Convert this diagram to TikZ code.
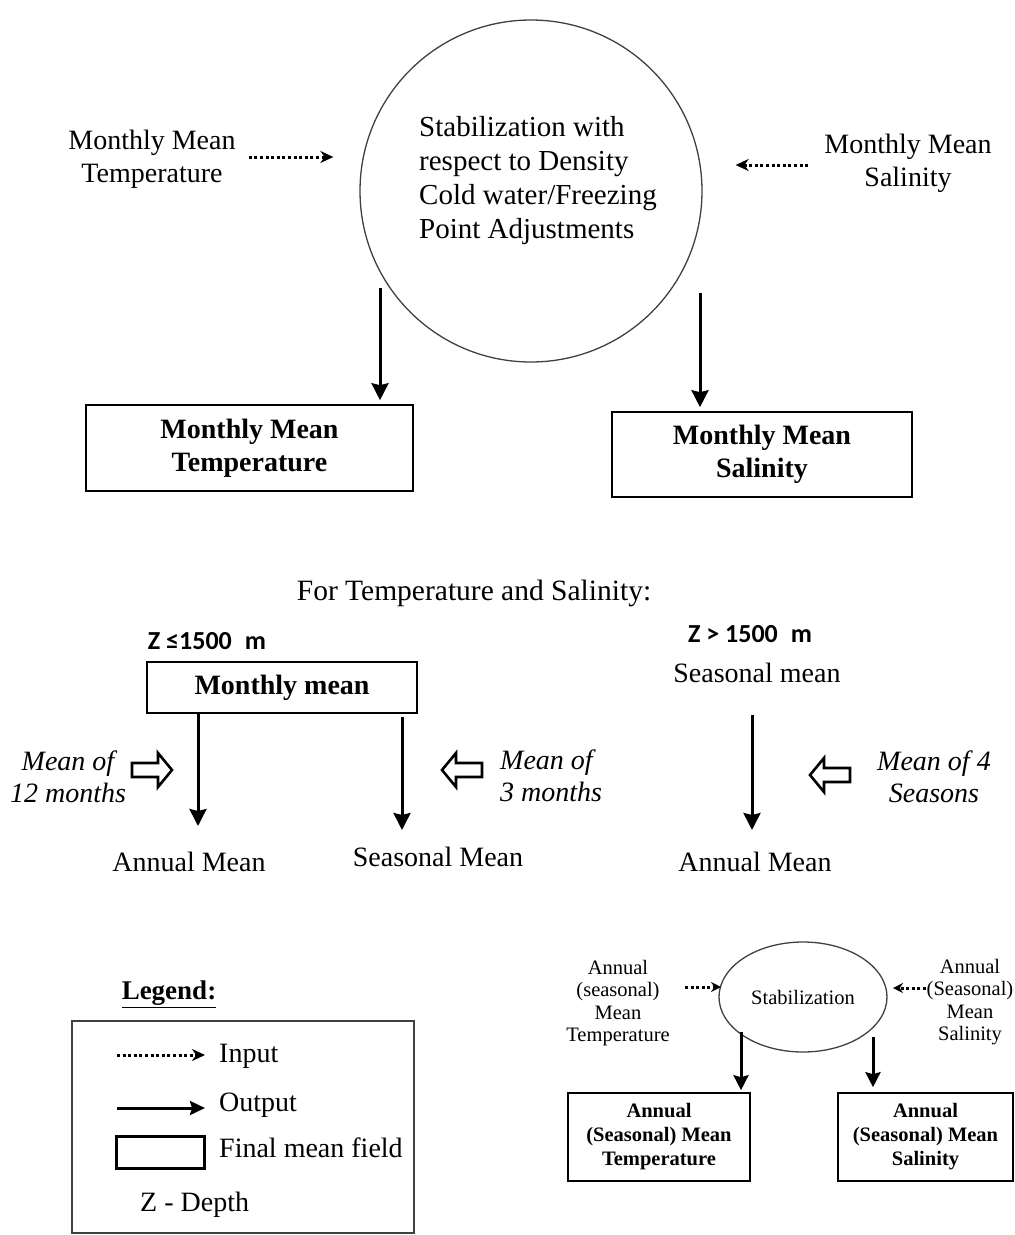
\documentclass[tikz,border=0pt]{standalone}
\usepackage{fontspec}
\setmainfont{Liberation Serif}
\newfontfamily\zfont{Carlito}
\usetikzlibrary{arrows.meta,shapes.geometric}
\begin{document}
\begin{tikzpicture}[x=1pt,y=-1pt,
  txt/.style={font=\fontsize{28}{33}\selectfont, align=center, inner sep=0pt},
  btxt/.style={font=\bfseries\fontsize{28}{33}\selectfont, align=center, inner sep=0pt},
  itxt/.style={font=\itshape\fontsize{28}{32}\selectfont, align=center, inner sep=0pt},
  ztxt/.style={font=\zfont\bfseries\fontsize{26}{29}\selectfont, inner sep=0pt},
  stxt/.style={font=\fontsize{20.5}{22.5}\selectfont, align=center, inner sep=0pt},
  sbtxt/.style={font=\bfseries\fontsize{20.5}{24}\selectfont, align=center, inner sep=0pt},
  fbox/.style={draw, line width=1.6pt, inner sep=0pt},
  inarrow/.style={line width=3pt, dash pattern=on 3pt off 2.6pt, -{Stealth[length=13pt,width=12pt]}},
  outarrow/.style={line width=3pt, -{Stealth[length=17pt,width=17pt,inset=2pt]}},
  hollowarr/.pic={\draw[line width=2.6pt, line join=miter] (-20,-7) -- (6,-7) -- (6,-17) -- (20,0) -- (6,17) -- (6,7) -- (-20,7) -- cycle;}
]
\useasboundingbox (0,0) rectangle (1015,1235);

% ---------- top part ----------
\node[circle, draw=black!75, line width=1.3pt, minimum size=342pt, inner sep=0pt] (stab) at (531,191) {};
\node[txt, align=left, anchor=west, font=\fontsize{29}{34}\selectfont] (stabtxt) at (419,181)
  {Stabilization with\\respect to Density\\Cold water/Freezing\\Point Adjustments};

\node[txt] (mmt) at (152,159) {Monthly Mean\\Temperature};
\node[txt] (mms) at (908,163) {Monthly Mean\\Salinity};

\draw[inarrow, shorten <=13pt, shorten >=26pt] (mmt.east |- 0,157) -- (stab.west |- 0,157);
\draw[inarrow, shorten <=16pt, shorten >=33pt] (mms.west |- 0,165) -- (stab.east |- 0,165);

\node[fbox, minimum width=327pt, minimum height=86pt] (mbt) at (249.5,448) {};
\node[btxt] (mbttxt) at (mbt.center) {Monthly Mean\\Temperature};
\node[fbox, minimum width=300pt, minimum height=85pt] (mbs) at (762,454.5) {};
\node[btxt] (mbstxt) at (mbs.center) {Monthly Mean\\Salinity};

\coordinate (d1) at (380,288);
\coordinate (d2) at (700,293);
\draw[outarrow, shorten >=4pt] (d1) -- (d1 |- mbt.north);
\draw[outarrow, shorten >=4pt] (d2) -- (d2 |- mbs.north);

% ---------- middle part ----------
\node[txt, font=\fontsize{29.5}{34}\selectfont] (fts) at (474,593) {For Temperature and Salinity:};

\node[ztxt] (z1) at (207,641) {Z ≤1500\enspace m};
\node[fbox, minimum width=270pt, minimum height=51pt] (mm) at (282,687.5) {};
\node[btxt] (mmtxt) at (mm.center) {Monthly mean};

\node[txt] (an1) at (189,862) {Annual Mean};
\node[txt] (sn1) at (438,857) {Seasonal Mean};
\coordinate (t1) at (198,826);
\coordinate (t2) at (402,830);
\draw[outarrow] (mm.south -| t1) -- (t1);
\draw[outarrow, shorten <=3pt] (mm.south -| t2) -- (t2);

\pic at (152,770) {hollowarr};
\pic[xscale=-1] at (462,770) {hollowarr};
\node[itxt] (m12) at (68,777) {Mean of\\12 months};
\node[itxt, align=left, anchor=west] (m3) at (500,776) {Mean of\\3 months};

\node[ztxt] (z2) at (750,634) {Z > 1500\enspace m};
\node[txt] (sm) at (757,673) {Seasonal mean};
\node[txt] (an2) at (755,862) {Annual Mean};
\coordinate (s1) at (752,715);
\coordinate (t3) at (752,830);
\draw[outarrow] (s1) -- (t3);
\pic[xscale=-1] at (830,775) {hollowarr};
\node[itxt] (m4) at (934,777) {Mean of 4\\Seasons};

% ---------- bottom right ----------
\node[ellipse, draw=black!75, line width=1.3pt, minimum width=168pt, minimum height=110pt, inner sep=0pt] (el) at (803,997) {};
\node[stxt] (eltxt) at (el.center) {Stabilization};
\node[stxt] (ait) at (618,1003) {Annual\\(seasonal)\\Mean\\Temperature};
\node[stxt] (ais) at (970,1002) {Annual\\(Seasonal)\\Mean\\Salinity};
\draw[inarrow, -{Stealth[length=10pt,width=10pt]}] (685,987) coordinate (ia1) -- (721,987) coordinate (ia2);
\draw[inarrow, -{Stealth[length=10pt,width=10pt]}] (926,988) coordinate (ib1) -- (893,988) coordinate (ib2);

\node[fbox, minimum width=182pt, minimum height=88pt] (abt) at (659,1137) {};
\node[sbtxt] (abttxt) at (abt.center) {Annual\\(Seasonal) Mean\\Temperature};
\node[fbox, minimum width=175pt, minimum height=88pt] (abs) at (925.5,1137) {};
\node[sbtxt] (abstxt) at (abs.center) {Annual\\(Seasonal) Mean\\Salinity};

\coordinate (e1) at (741,1032);
\coordinate (e2) at (873,1037);
\draw[outarrow, -{Stealth[length=15pt,width=15pt,inset=2pt]}, shorten >=2pt] (e1) -- (e1 |- abt.north);
\draw[outarrow, -{Stealth[length=15pt,width=15pt,inset=2pt]}, shorten >=5pt] (e2) -- (e2 |- abs.north);

% ---------- legend ----------
\node[btxt, font=\bfseries\fontsize{27}{32}\selectfont] (legt) at (169,994) {\underline{Legend:}};
\node[draw=black!75, line width=2.2pt, minimum width=342pt, minimum height=212pt, inner sep=0pt] (leg) at (243,1127) {};
\coordinate (li1) at (117,1055);
\coordinate (li2) at (205,1055);
\draw[inarrow] (li1) -- (li2);
\node[txt, anchor=west] (lin) at (219,1056) {Input};
\coordinate (lo1) at (117,1108);
\coordinate (lo2) at (205,1108);
\draw[outarrow, -{Stealth[length=15pt,width=14pt,inset=2pt]}] (lo1) -- (lo2);
\node[txt, anchor=west] (lout) at (219,1105) {Output};
\node[draw, line width=3pt, minimum width=88pt, minimum height=32pt, inner sep=0pt] (lbox) at (160,1152) {};
\node[txt, anchor=west] (lfin) at (219,1148) {Final mean field};
\node[txt, anchor=west] (lz) at (140,1205) {Z - Depth};
\end{tikzpicture}
\end{document}
